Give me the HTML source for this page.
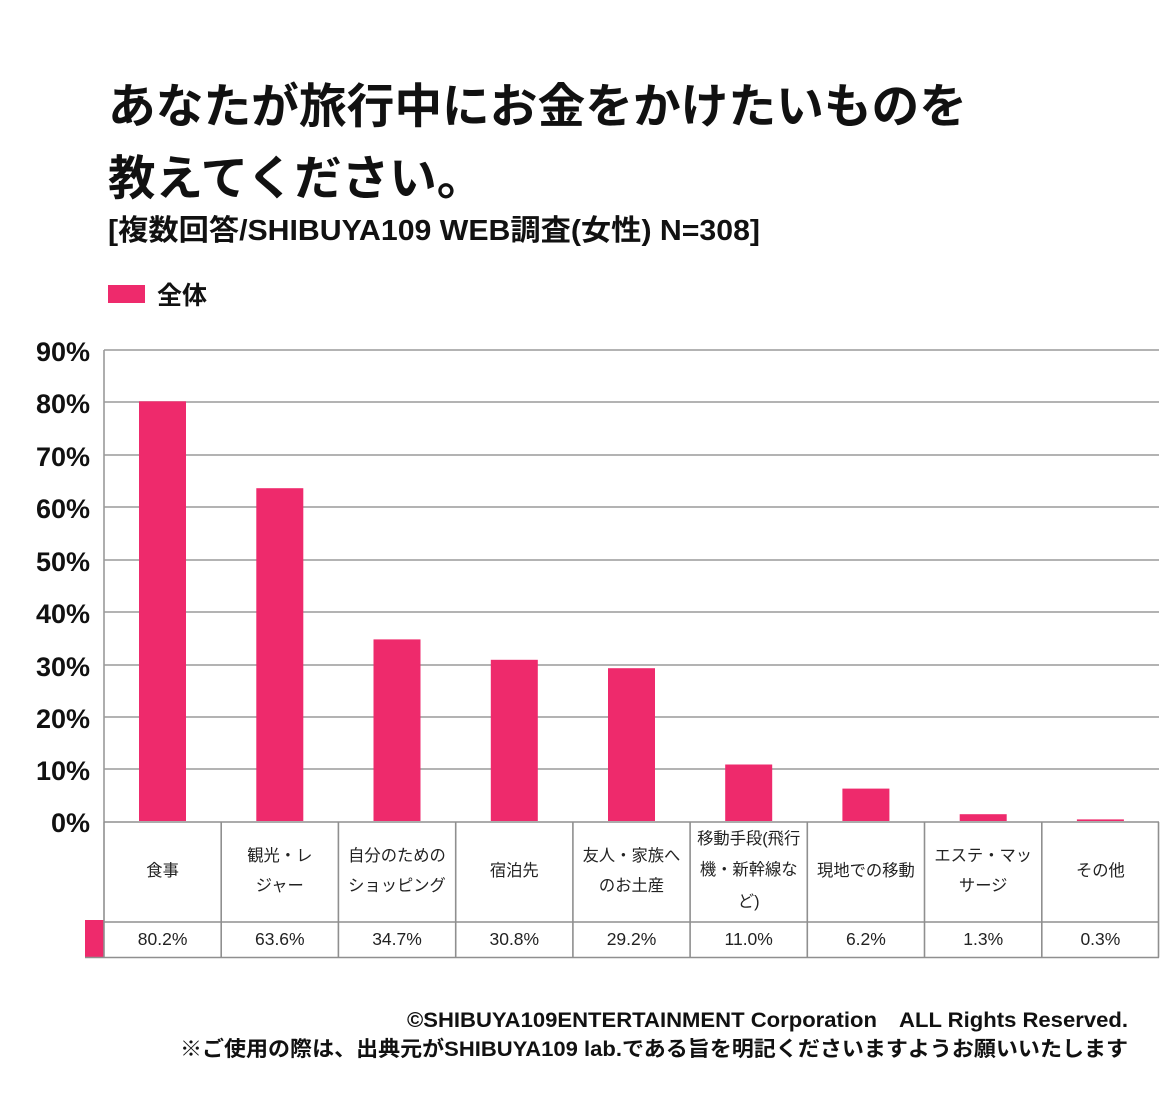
<!DOCTYPE html>
<html>
<head>
<meta charset="utf-8">
<style>
  html, body { margin:0; padding:0; background:#fff; }
  svg { display:block; }
  text { font-family: "Liberation Sans", "Noto Sans CJK JP", sans-serif; }
</style>
</head>
<body>
<svg width="1160" height="1120" viewBox="0 0 1160 1120" xmlns="http://www.w3.org/2000/svg">
  <rect x="0" y="0" width="1160" height="1120" fill="#fff"/>

  <!-- Title -->
  <text x="108" y="123" font-size="47.5" font-weight="700" fill="#111" textLength="859" lengthAdjust="spacingAndGlyphs">あなたが旅行中にお金をかけたいものを</text>
  <text x="108" y="195" font-size="47.5" font-weight="700" fill="#111">教えてください。</text>
  <text x="108" y="240" font-size="29" font-weight="700" fill="#111" textLength="652" lengthAdjust="spacingAndGlyphs">[複数回答/SHIBUYA109 WEB調査(女性) N=308]</text>

  <!-- Legend -->
  <rect x="108" y="285" width="37" height="18" fill="#EE2A6C"/>
  <text x="157" y="304" font-size="25" font-weight="700" fill="#111">全体</text>

  <!-- Gridlines -->
  <g stroke="#9a9a9a" stroke-width="1.6">
    <line x1="104" y1="350" x2="1159" y2="350"/>
    <line x1="104" y1="402" x2="1159" y2="402"/>
    <line x1="104" y1="455" x2="1159" y2="455"/>
    <line x1="104" y1="507" x2="1159" y2="507"/>
    <line x1="104" y1="560" x2="1159" y2="560"/>
    <line x1="104" y1="612" x2="1159" y2="612"/>
    <line x1="104" y1="665" x2="1159" y2="665"/>
    <line x1="104" y1="717" x2="1159" y2="717"/>
    <line x1="104" y1="769" x2="1159" y2="769"/>
    <line x1="104" y1="350" x2="104" y2="822"/>
  </g>

  <!-- Y labels -->
  <g font-size="27" font-weight="700" fill="#111" text-anchor="end">
    <text x="90" y="361">90%</text>
    <text x="90" y="413">80%</text>
    <text x="90" y="466">70%</text>
    <text x="90" y="518">60%</text>
    <text x="90" y="571">50%</text>
    <text x="90" y="623">40%</text>
    <text x="90" y="676">30%</text>
    <text x="90" y="728">20%</text>
    <text x="90" y="780">10%</text>
    <text x="90" y="832">0%</text>
  </g>

  <!-- Bars -->
  <g fill="#EE2A6C">
    <rect x="139" y="401.3" width="47" height="419.7"/>
    <rect x="256.3" y="488.2" width="47" height="332.8"/>
    <rect x="373.5" y="639.4" width="47" height="181.6"/>
    <rect x="490.8" y="659.8" width="47" height="161.2"/>
    <rect x="608" y="668.2" width="47" height="152.8"/>
    <rect x="725.2" y="764.5" width="47" height="56.5"/>
    <rect x="842.4" y="788.6" width="47" height="32.4"/>
    <rect x="959.7" y="814.2" width="47" height="6.8"/>
    <rect x="1076.9" y="819.4" width="47" height="1.6"/>
  </g>

  <!-- Table -->
  <rect x="85" y="920" width="19" height="37.5" fill="#EE2A6C"/>
  <g stroke="#8f8f8f" stroke-width="1.6" fill="none">
    <line x1="104" y1="822" x2="1159" y2="822"/>
    <line x1="104" y1="922" x2="1159" y2="922"/>
    <line x1="85" y1="957.5" x2="1159" y2="957.5"/>
    <line x1="104" y1="822" x2="104" y2="957.5"/>
    <line x1="221.2" y1="822" x2="221.2" y2="957.5"/>
    <line x1="338.4" y1="822" x2="338.4" y2="957.5"/>
    <line x1="455.7" y1="822" x2="455.7" y2="957.5"/>
    <line x1="572.9" y1="822" x2="572.9" y2="957.5"/>
    <line x1="690.1" y1="822" x2="690.1" y2="957.5"/>
    <line x1="807.3" y1="822" x2="807.3" y2="957.5"/>
    <line x1="924.5" y1="822" x2="924.5" y2="957.5"/>
    <line x1="1041.8" y1="822" x2="1041.8" y2="957.5"/>
    <line x1="1158.5" y1="822" x2="1158.5" y2="957.5"/>
  </g>

  <!-- Category labels -->
  <g font-size="16.3" fill="#222" text-anchor="middle">
    <text x="162.6" y="876">食事</text>
    <text x="279.8" y="861">観光・レ</text>
    <text x="279.8" y="891">ジャー</text>
    <text x="397.0" y="861">自分のための</text>
    <text x="397.0" y="891">ショッピング</text>
    <text x="514.3" y="876">宿泊先</text>
    <text x="631.5" y="861">友人・家族へ</text>
    <text x="631.5" y="891">のお土産</text>
    <text x="748.7" y="844">移動手段(飛行</text>
    <text x="748.7" y="875">機・新幹線な</text>
    <text x="748.7" y="907">ど)</text>
    <text x="865.9" y="876">現地での移動</text>
    <text x="983.2" y="861">エステ・マッ</text>
    <text x="983.2" y="891">サージ</text>
    <text x="1100.4" y="876">その他</text>
  </g>

  <!-- Values -->
  <g font-size="17.5" fill="#222" text-anchor="middle">
    <text x="162.6" y="945">80.2%</text>
    <text x="279.8" y="945">63.6%</text>
    <text x="397.0" y="945">34.7%</text>
    <text x="514.3" y="945">30.8%</text>
    <text x="631.5" y="945">29.2%</text>
    <text x="748.7" y="945">11.0%</text>
    <text x="865.9" y="945">6.2%</text>
    <text x="983.2" y="945">1.3%</text>
    <text x="1100.4" y="945">0.3%</text>
  </g>

  <!-- Footer -->
  <text x="407" y="1027" font-size="21" font-weight="700" fill="#111" textLength="721" lengthAdjust="spacingAndGlyphs">©SHIBUYA109ENTERTAINMENT Corporation　ALL Rights Reserved.</text>
  <text x="180" y="1056" font-size="21" font-weight="700" fill="#111" textLength="948" lengthAdjust="spacingAndGlyphs">※ご使用の際は、出典元がSHIBUYA109 lab.である旨を明記くださいますようお願いいたします</text>
</svg>
</body>
</html>
